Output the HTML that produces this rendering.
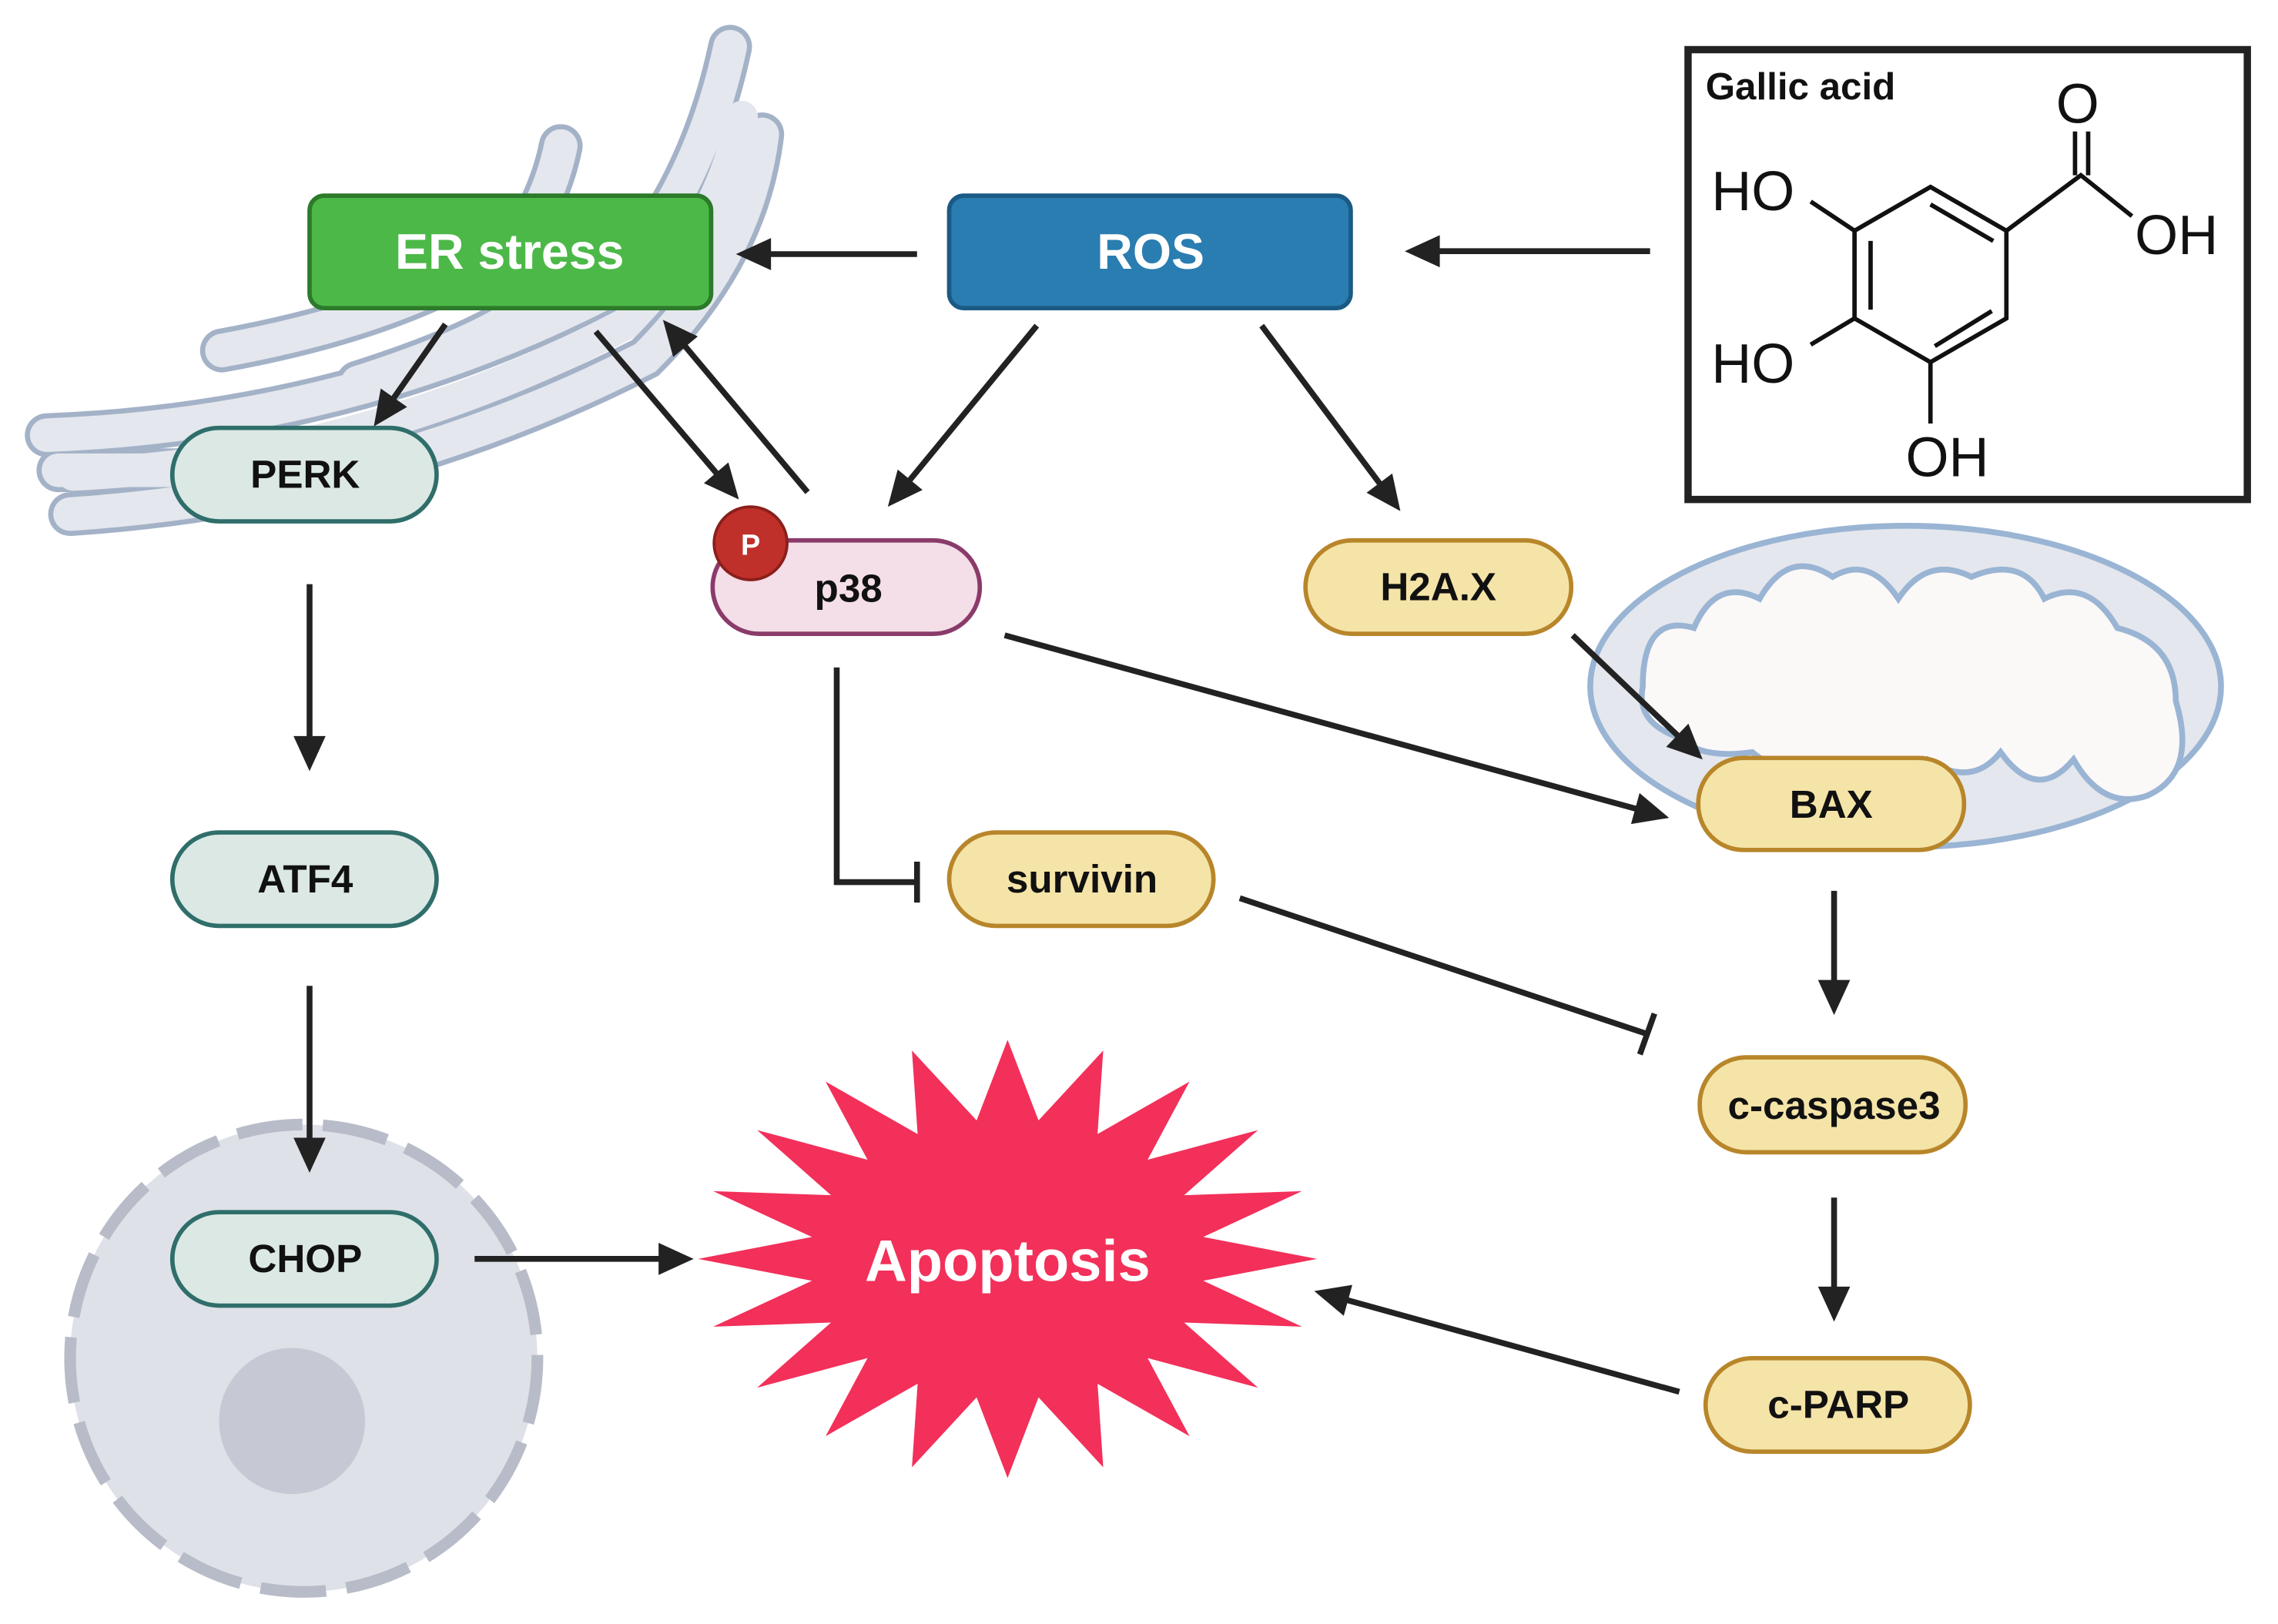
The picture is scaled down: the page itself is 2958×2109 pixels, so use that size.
<!DOCTYPE html>
<html><head><meta charset="utf-8"><style>
html,body{margin:0;padding:0;background:#fff;}
svg{display:block;}
text{font-family:"Liberation Sans",sans-serif;font-weight:bold;}
</style></head><body>
<svg width="2958" height="2109" viewBox="0 0 1560 1112" preserveAspectRatio="none" xmlns="http://www.w3.org/2000/svg">
<rect width="1560" height="1112" fill="#fff"/>
<!-- ER membrane -->
<g fill="none" stroke-linecap="round">
<g stroke="#a4b2c8" stroke-width="30">
<path d="M32 298 Q240 290 415 200 Q478 135 500 32"/>
<path d="M48 352 Q260 338 442 245 Q512 175 522 92"/>
<path d="M152 240 Q290 215 360 160 Q378 130 384 100"/>
<path d="M245 262 Q320 238 355 215"/>
<path d="M40 322 L125 322"/>
<path d="M470 210 Q500 160 505 120"/>
</g>
<g stroke="#e4e7ed" stroke-width="23">
<path d="M32 298 Q240 290 415 200 Q478 135 500 32"/>
<path d="M48 352 Q260 338 442 245 Q512 175 522 92"/>
<path d="M152 240 Q290 215 360 160 Q378 130 384 100"/>
<path d="M245 262 Q320 238 355 215"/>
<path d="M40 322 L125 322"/>
<path d="M470 210 Q500 160 505 120"/>
</g>
<path d="M50 325 Q250 316 428 222 Q492 158 508 80" stroke="#e4e7ed" stroke-width="22"/>
</g>
<!-- Mitochondrion -->
<ellipse cx="1305" cy="470" rx="216" ry="110" fill="#e4e7ed" stroke="#9ab4d4" stroke-width="4"/>
<path d="M1125 470 Q1125 420 1160 430 Q1175 395 1205 410 Q1225 375 1255 395 Q1280 380 1300 410 Q1320 380 1350 395 Q1385 380 1400 410 Q1430 395 1450 430 Q1490 440 1490 480 Q1505 530 1470 545 Q1440 555 1420 520 Q1395 550 1370 515 Q1350 540 1320 520 Q1290 545 1260 520 Q1230 540 1200 515 Q1165 520 1150 505 Q1120 495 1125 470 Z" fill="#fbf8f8" stroke="#9ab4d4" stroke-width="4"/>
<!-- Nucleus -->
<circle cx="208" cy="930" r="160" fill="#dfe1e8" stroke="#b8bcc8" stroke-width="8" stroke-dasharray="45 14"/>
<circle cx="200" cy="973" r="50" fill="#c6c9d3"/>
<!-- Gallic acid -->
<rect x="1156" y="34" width="383" height="308" fill="#fff" stroke="#222" stroke-width="5"/>
<text x="1168" y="68" font-size="26" fill="#111">Gallic acid</text>
<g stroke="#111" stroke-width="3" fill="none">
<path d="M1322 128 L1374 158 L1374 218 L1322 248 L1270 218 L1270 158 Z"/>
<path d="M1322 140 L1365 165 M1281 165 L1281 212 M1325 237 L1364 213"/>
<path d="M1374 158 L1425 120 L1460 148 M1421 120 L1421 90 M1430 120 L1430 90"/>
<path d="M1270 158 L1240 138 M1270 218 L1240 236 M1322 248 L1322 290"/>
</g>
<g font-size="38" fill="#111">
<text x="1408" y="84" style="font-weight:normal">O</text>
<text x="1172" y="144" style="font-weight:normal">HO</text>
<text x="1462" y="174" style="font-weight:normal">OH</text>
<text x="1172" y="262" style="font-weight:normal">HO</text>
<text x="1305" y="326" style="font-weight:normal">OH</text>
</g>
<!-- Boxes -->
<rect x="212" y="134" width="275" height="77" rx="10" fill="#4cb848" stroke="#2c7a2a" stroke-width="3"/>
<text x="349" y="184" font-size="34" fill="#fff" text-anchor="middle">ER stress</text>
<rect x="650" y="134" width="275" height="77" rx="10" fill="#2a7db0" stroke="#1a5a85" stroke-width="3"/>
<text x="788" y="184" font-size="34" fill="#fff" text-anchor="middle">ROS</text>
<!-- Pills -->
<g stroke-width="3">
<rect x="118" y="293" width="181" height="64" rx="32" fill="#dbe8e4" stroke="#2f6e6a"/>
<rect x="118" y="570" width="181" height="64" rx="32" fill="#dbe8e4" stroke="#2f6e6a"/>
<rect x="118" y="830" width="181" height="64" rx="32" fill="#dbe8e4" stroke="#2f6e6a"/>
<rect x="488" y="370" width="183" height="64" rx="32" fill="#f4dee7" stroke="#8a3b6a"/>
<rect x="894" y="370" width="182" height="64" rx="32" fill="#f5e4a8" stroke="#b8862a"/>
<rect x="1163" y="519" width="182" height="63" rx="31" fill="#f5e4a8" stroke="#b8862a"/>
<rect x="650" y="570" width="181" height="64" rx="32" fill="#f5e4a8" stroke="#b8862a"/>
<rect x="1164" y="724" width="182" height="65" rx="32" fill="#f5e4a8" stroke="#b8862a"/>
<rect x="1168" y="930" width="181" height="64" rx="32" fill="#f5e4a8" stroke="#b8862a"/>
</g>
<circle cx="514" cy="372" r="25" fill="#c0302b" stroke="#8a1f1b" stroke-width="2"/>
<text x="514" y="380" font-size="20" fill="#fff" text-anchor="middle">P</text>
<g font-size="27" fill="#111" text-anchor="middle">
<text x="209" y="334">PERK</text>
<text x="209" y="611">ATF4</text>
<text x="209" y="871">CHOP</text>
<text x="581" y="412">p38</text>
<text x="985" y="411">H2A.X</text>
<text x="1254" y="560">BAX</text>
<text x="741" y="611">survivin</text>
<text x="1256" y="766">c-caspase3</text>
<text x="1259" y="971">c-PARP</text>
</g>
<!-- Apoptosis star -->
<polygon id="star" fill="#f2305a"/>
<text x="690" y="877" font-size="40" fill="#fff" text-anchor="middle">Apoptosis</text>
<!-- Connectors -->
<g stroke="#222" stroke-width="4" fill="none" id="lines"></g>
<g fill="#222" id="heads"></g>
<g stroke="#222" stroke-width="4" fill="none">
<path d="M573 457 L573 604 L628 604 M628 590 L628 618"/>
<path d="M849 615 L1128 708 M1123 722 L1133 694"/>
</g>
</svg>
<script>
(function(){
var NS="http://www.w3.org/2000/svg";
var arrows=[[1130,172,962,172],[628,174,504,174],[305,222,256,292],[408,227,506,342],[553,337,454,219],[710,223,608,347],[864,223,959,350],[1077,435,1166,520],[688,435,1143,560],[212,400,212,528],[1256,610,1256,695],[1256,820,1256,905],[1150,953,900,884],[212,675,212,803],[325,862,475,862]];
var L=document.getElementById("lines"),H=document.getElementById("heads");
arrows.forEach(function(a){
var dx=a[2]-a[0],dy=a[3]-a[1],d=Math.sqrt(dx*dx+dy*dy),ux=dx/d,uy=dy/d,hl=24,hw=11;
var bx=a[2]-ux*hl,by=a[3]-uy*hl;
var l=document.createElementNS(NS,"line");
l.setAttribute("x1",a[0]);l.setAttribute("y1",a[1]);l.setAttribute("x2",bx+ux*2);l.setAttribute("y2",by+uy*2);L.appendChild(l);
var p=document.createElementNS(NS,"polygon");
p.setAttribute("points",a[2]+","+a[3]+" "+(bx-uy*hw)+","+(by+ux*hw)+" "+(bx+uy*hw)+","+(by-ux*hw));H.appendChild(p);
});
var pts=[],n=20,cx=690,cy=862;
for(var i=0;i<2*n;i++){var ang=Math.PI*i/n-Math.PI/2;var ro=(i%2==0)?1:0.64;
pts.push((cx+Math.cos(ang)*212*ro).toFixed(1)+","+(cy+Math.sin(ang)*150*ro).toFixed(1));}
document.getElementById("star").setAttribute("points",pts.join(" "));
})();
</script>
</body></html>
